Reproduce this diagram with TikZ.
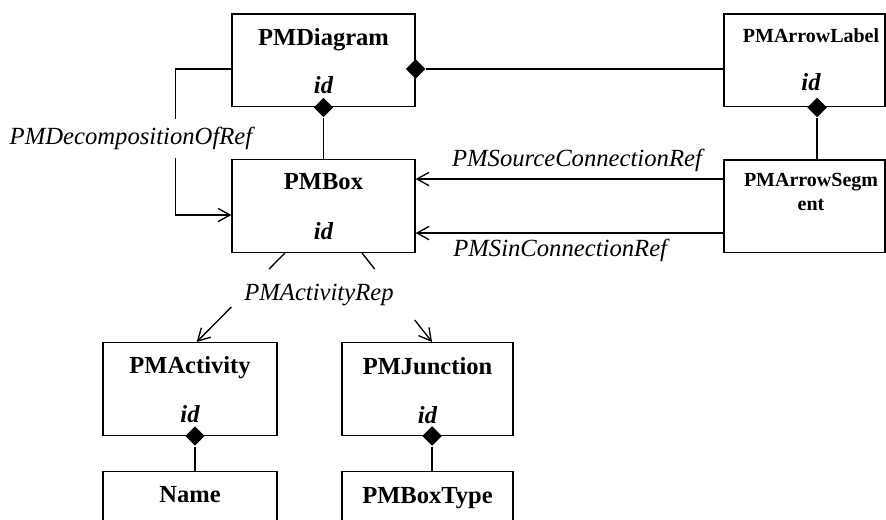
\documentclass[tikz,border=0pt]{standalone}
\usepackage{fontspec}
\setmainfont{Liberation Serif}
\usetikzlibrary{positioning,shapes.geometric,arrows.meta}

\begin{document}
\begin{tikzpicture}[x=0.75pt,y=-0.75pt,line width=1pt,
        >={Straight Barb[length=9pt,width=10pt]},
        cls/.style={draw,minimum height=69.5pt,inner sep=0pt,minimum width=#1},
        ttl/.style={font=\fontsize{18.4}{20}\selectfont\bfseries,inner sep=0pt,text height=12.1pt,text depth=0pt},
        sttl/.style={font=\fontsize{15}{18}\selectfont\bfseries,inner sep=0pt,align=center},
        attr/.style={font=\fontsize{18.4}{20}\selectfont\bfseries\itshape,inner sep=0pt,text height=12.5pt,text depth=0pt},
        rel/.style={font=\fontsize{18.5}{20}\selectfont\itshape,inner sep=1pt},
        comp/.style={diamond,fill=black,draw=none,minimum size=15pt,inner sep=0pt}]
        \clip (0,0) rectangle (886,520);
        % classes
        \node[cls=137.25pt] (dgm) at (323.5,60.5) {};
        \node[cls=137.25pt] (box) at (323.5,206) {};
        \node[cls=120.75pt] (lbl) at (804.5,60.5) {};
        \node[cls=120.75pt] (seg) at (804.5,206.5) {};
        \node[cls=130.5pt] (act) at (190,389) {};
        \node[cls=128.25pt] (jun) at (427.5,389) {};
        \node[cls=130.5pt] (name) at (190,517.5) {};
        \node[cls=128.25pt] (btype) at (427.5,517.5) {};
        % texts
        \node[ttl] (dgm-t) at ([yshift=-18pt]dgm.north) {PMDiagram};
        \node[attr] (dgm-id) at ([yshift=16.5pt]dgm.south) {id};
        \node[ttl] (box-t) at ([yshift=-17.2pt]box.north) {PMBox};
        \node[attr] (box-id) at ([yshift=16.5pt]box.south) {id};
        \node[sttl] (lbl-t) at ([xshift=4.9pt,yshift=-16.5pt]lbl.north) {PMArrowLabel};
        \node[attr] (lbl-id) at ([xshift=4.9pt,yshift=18.75pt]lbl.south) {id};
        \node[sttl] (seg-t) at ([xshift=4.9pt,yshift=-24pt]seg.north) {PMArrowSegm\\ent};
        \node[ttl] (act-t) at ([yshift=-17.6pt]act.north) {PMActivity};
        \node[attr] (act-id) at ([yshift=16.5pt]act.south) {id};
        \node[ttl] (jun-t) at ([yshift=-18pt]jun.north) {PMJunction};
        \node[attr] (jun-id) at ([yshift=15.5pt]jun.south) {id};
        \node[ttl] (name-t) at ([yshift=-18pt]name.north) {Name};
        \node[ttl] (btype-t) at ([yshift=-19pt]btype.north) {PMBoxType};
        % compositions
        \node[comp] (dgm-b) at (dgm.south) {};
        \node[comp] (dgm-r) at ([yshift=-6.4pt]dgm.east) {};
        \node[comp] (lbl-b) at ([xshift=9.4pt]lbl.south) {};
        \node[comp] (act-b) at ([xshift=3.75pt]act.south) {};
        \node[comp] (jun-b) at ([xshift=3.4pt]jun.south) {};
        \draw (dgm-b) -- (box.north);
        \draw (dgm-r) -- (lbl.west |- dgm-r);
        \draw (lbl-b) -- (seg.north -| lbl-b);
        \draw (act-b) -- (name.north -| act-b);
        \draw (jun-b) -- (btype.north -| jun-b);
        % references
        \draw[->] (dgm.west |- dgm-r) -- ++(-56,0) |- ([yshift=-6.75pt]box.west);
        \node[rel,fill=white,inner ysep=6pt] (dec) at (131,138.5) {PMDecompositionOfRef};
        \draw[->] ([yshift=20.6pt]seg.west) -- ([yshift=20.6pt]seg.west -| box.east)
            node[rel,midway,above=4pt,xshift=5.6pt] (src) {PMSourceConnectionRef};
        \draw[->] ([yshift=-19.9pt]seg.west) -- ([yshift=-19.9pt]seg.west -| box.east)
            node[rel,midway,below=3pt,xshift=-7pt] (sin) {PMSinConnectionRef};
        % activity rep
        \coordinate (rep-l) at ([xshift=-28.9pt]box.south);
        \coordinate (rep-r) at ([xshift=28.9pt]box.south);
        \path (rep-l) -- ([xshift=5pt]act.north) coordinate[pos=0.18] (rep-l1) coordinate[pos=0.607] (rep-l2);
        \path (rep-r) -- ([xshift=3.4pt]jun.north) coordinate[pos=0.18] (rep-r1) coordinate[pos=0.753] (rep-r2);
        \draw (rep-l) -- (rep-l1);
        \draw[->] (rep-l2) -- ([xshift=5pt]act.north);
        \draw (rep-r) -- (rep-r1);
        \draw[->] (rep-r2) -- ([xshift=3.4pt]jun.north);
        \node[rel] (rep) at ([xshift=-3.4pt,yshift=-31.5pt]box.south) {PMActivityRep};
    \end{tikzpicture}
\end{document}
